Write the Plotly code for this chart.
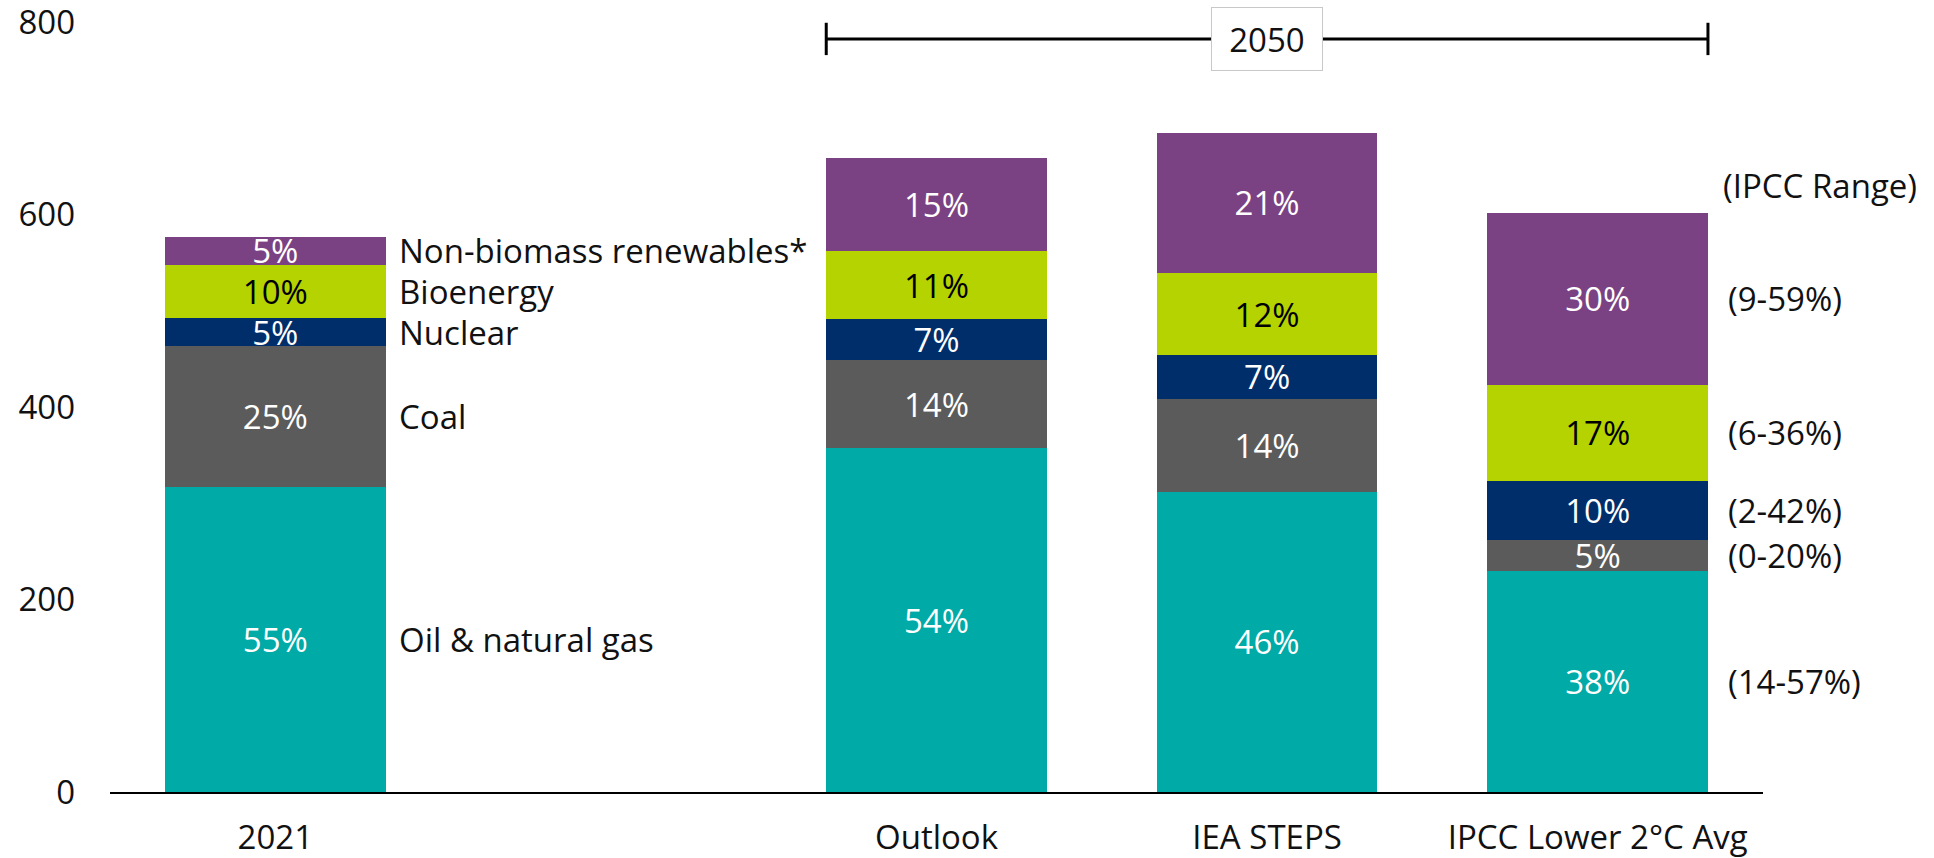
import plotly.graph_objects as go

# Scenario columns (2021 actuals, then three 2050 views)
categories = ["2021", "Outlook", "IEA STEPS", "IPCC Lower 2°C Avg"]

# Primary energy by source, stacked bottom to top
oil_gas = [317, 357, 312, 230]
coal = [146, 91.5, 96.5, 32]
nuclear = [29, 43, 45.5, 61]
bioenergy = [56, 70.5, 85, 100]
renewables = [29, 97, 146, 179]

source_names = ["Oil & natural gas", "Coal", "Nuclear", "Bioenergy", "Non-biomass renewables*"]
ipcc_ranges = ["(14-57%)", "(0-20%)", "(2-42%)", "(6-36%)", "(9-59%)"]
y_ticks = [0, 200, 400, 600, 800]

series = [oil_gas, coal, nuclear, bioenergy, renewables]
colors = ["#00AAA7", "#5B5B5B", "#002E6A", "#B5D300", "#7B4283"]
text_colors = ["white", "white", "white", "black", "white"]

# slot 1 is left empty to separate 2021 from the 2050 group
slots = [0, 2, 3, 4]
bar_w = 0.667
FONT = "Open Sans"
FS = 33
INK = "#111111"

totals = [sum(s[i] for s in series) for i in range(len(categories))]


def share(v, t):
    return f"{int(v / t * 100 + 0.5)}%"


fig = go.Figure()
for name, vals, col, tcol in zip(source_names, series, colors, text_colors):
    fig.add_trace(go.Bar(
        x=slots, y=vals, name=name, width=bar_w,
        marker=dict(color=col, line=dict(width=0)),
        text=[share(v, t) for v, t in zip(vals, totals)],
        textposition="inside", insidetextanchor="middle",
        constraintext="none",
        textfont=dict(family=FONT, size=FS, color=tcol),
        hoverinfo="skip",
    ))

annotations = []
# source names beside the 2021 column, and IPCC ranges beside the last column
base0, base3 = 0, 0
for i, vals in enumerate(series):
    mid0 = base0 + vals[0] / 2
    mid3 = base3 + vals[3] / 2
    annotations.append(dict(
        x=slots[0] + bar_w / 2, y=mid0, xref="x", yref="y", text=source_names[i],
        showarrow=False, xanchor="left", yanchor="middle", xshift=11,
        font=dict(family=FONT, size=FS, color=INK)))
    annotations.append(dict(
        x=slots[3] + bar_w / 2, y=mid3, xref="x", yref="y", text=ipcc_ranges[i],
        showarrow=False, xanchor="left", yanchor="middle", xshift=18,
        font=dict(family=FONT, size=FS, color=INK)))
    base0 += vals[0]
    base3 += vals[3]

annotations.append(dict(
    x=slots[3] + bar_w / 2, y=totals[3], xref="x", yref="y", text="(IPCC Range)",
    showarrow=False, xanchor="left", yanchor="middle", xshift=13, yshift=27,
    font=dict(family=FONT, size=FS, color=INK)))

# 2050 bracket spanning the three scenario columns
bx0 = slots[1] - bar_w / 2
bx1 = slots[3] + bar_w / 2
by = 0.978
tick_h = 0.021
shapes = [
    dict(type="line", xref="x", yref="paper", x0=bx0, x1=bx1, y0=by, y1=by,
         line=dict(color="black", width=3)),
    dict(type="line", xref="x", yref="paper", x0=bx0, x1=bx0, y0=by - tick_h, y1=by + tick_h,
         line=dict(color="black", width=3)),
    dict(type="line", xref="x", yref="paper", x0=bx1, x1=bx1, y0=by - tick_h, y1=by + tick_h,
         line=dict(color="black", width=3)),
]
annotations.append(dict(
    x=(bx0 + bx1) / 2, y=by, xref="x", yref="paper", text="2050", showarrow=False,
    xanchor="center", yanchor="middle", width=110, height=62, borderpad=0,
    bgcolor="white", bordercolor="#C8C8C8", borderwidth=1,
    font=dict(family=FONT, size=FS, color=INK)))

fig.update_layout(
    barmode="stack",
    width=1934, height=858,
    margin=dict(l=110, r=171, t=22, b=66, autoexpand=False),
    plot_bgcolor="white", paper_bgcolor="white",
    showlegend=False,
    annotations=annotations,
    shapes=shapes,
    font=dict(family=FONT, size=FS, color=INK),
)
fig.update_xaxes(
    range=[-0.5, 4.5], tickvals=slots, ticktext=categories,
    showgrid=False, zeroline=False, showline=True, linecolor="black", linewidth=2,
    ticks="", ticklabelstandoff=15, automargin=False, ticklabeloverflow="allow",
    tickfont=dict(family=FONT, size=FS, color=INK),
)
fig.update_yaxes(
    range=[0, 800], tickvals=y_ticks, showgrid=False, zeroline=False, showline=False,
    ticks="", ticklabelstandoff=34, automargin=False, ticklabeloverflow="allow",
    tickfont=dict(family=FONT, size=FS, color=INK),
)

fig.write_html("out.html")
